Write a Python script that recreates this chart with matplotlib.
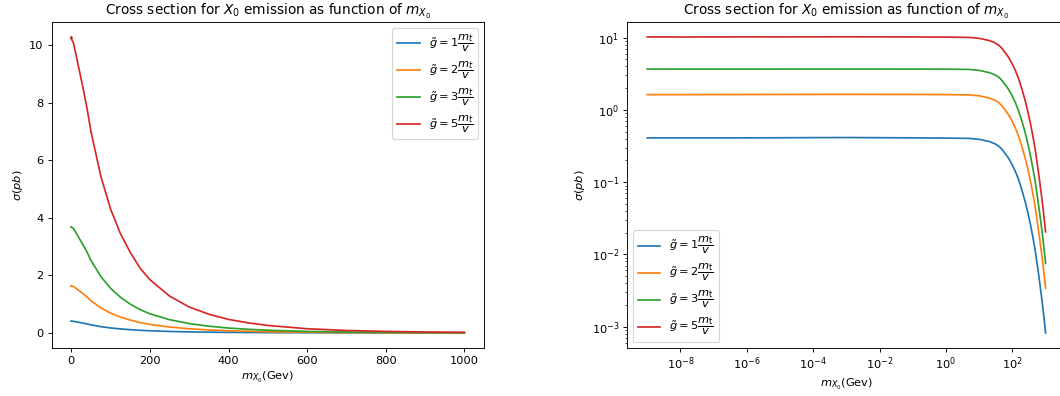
import matplotlib
matplotlib.use("Agg")
import matplotlib.pyplot as plt

# X0 masses in GeV
mass = [1e-9, 1e-8, 1e-7, 1e-6, 1e-5, 1e-4, 1e-3, 1e-2, 1e-1, 1.0,
        5, 10, 20, 30, 40, 50, 75, 100, 125, 150, 175, 200, 250, 300,
        350, 400, 450, 500, 600, 700, 800, 900, 1000]

# cross sections in pb for each coupling
sigma_g1 = [0.410, 0.410, 0.410, 0.411, 0.412, 0.414, 0.415, 0.413, 0.411, 0.408,
            0.404, 0.392, 0.366, 0.340, 0.312, 0.280, 0.218, 0.172, 0.138, 0.112,
            0.090, 0.074, 0.051, 0.036, 0.026, 0.0188, 0.0140, 0.0104, 0.0058,
            0.0034, 0.0021, 0.0013, 0.00082]
sigma_g2 = [1.630, 1.630, 1.632, 1.635, 1.636, 1.640, 1.642, 1.640, 1.638, 1.632,
            1.615, 1.570, 1.465, 1.360, 1.250, 1.120, 0.870, 0.690, 0.552, 0.448,
            0.360, 0.296, 0.205, 0.144, 0.104, 0.075, 0.056, 0.0415, 0.0232,
            0.0137, 0.0085, 0.0053, 0.0034]
sigma_g3 = [3.680, 3.680, 3.682, 3.684, 3.686, 3.690, 3.692, 3.688, 3.684, 3.670,
            3.640, 3.530, 3.290, 3.060, 2.810, 2.520, 1.960, 1.550, 1.240, 1.000,
            0.810, 0.665, 0.460, 0.324, 0.234, 0.169, 0.126, 0.094, 0.052,
            0.031, 0.019, 0.012, 0.0075]
sigma_g5 = [10.26, 10.24, 10.25, 10.27, 10.26, 10.28, 10.30, 10.27, 10.25, 10.20,
            10.10, 9.80, 9.15, 8.50, 7.80, 7.00, 5.45, 4.30, 3.45, 2.80,
            2.25, 1.85, 1.28, 0.90, 0.65, 0.47, 0.35, 0.26, 0.145,
            0.085, 0.053, 0.032, 0.0205]

couplings = ["1", "2", "3", "5"]
series = [sigma_g1, sigma_g2, sigma_g3, sigma_g5]

title = r"Cross section for $X_0$ emission as function of $m_{X_0}$"
xlabel = r"$m_{X_0}$(Gev)"
ylabel = r"$\sigma(pb)$"

dpi = 82
fig = plt.figure(figsize=(1060 / dpi + 1e-4, 396 / dpi + 1e-4), dpi=dpi)

ax_lin = fig.add_axes([51.7 / 1060, 1 - 347.7 / 396, (484 - 51.7) / 1060, (347.7 - 22) / 396])
ax_log = fig.add_axes([627.3 / 1060, 1 - 347.7 / 396, (1065.5 - 627.3) / 1060, (347.7 - 22) / 396])

for g, s in zip(couplings, series):
    ax_lin.plot(mass, s, label=r"$\tilde{g}=%s\dfrac{m_t}{v}$" % g)
    ax_log.plot(mass, s, label=r"$\tilde{g}=%s\dfrac{m_{\rm t}}{v}$" % g)

ax_lin.set_title(title)
ax_lin.set_xlabel(xlabel)
ax_lin.set_ylabel(ylabel)
ax_lin.legend(loc="upper right")

ax_log.set_xscale("log")
ax_log.set_yscale("log")
ax_log.set_title(title)
ax_log.set_xlabel(xlabel)
ax_log.set_ylabel(ylabel)
ax_log.legend(loc="lower left")

fig.savefig("out.png", dpi=dpi)
